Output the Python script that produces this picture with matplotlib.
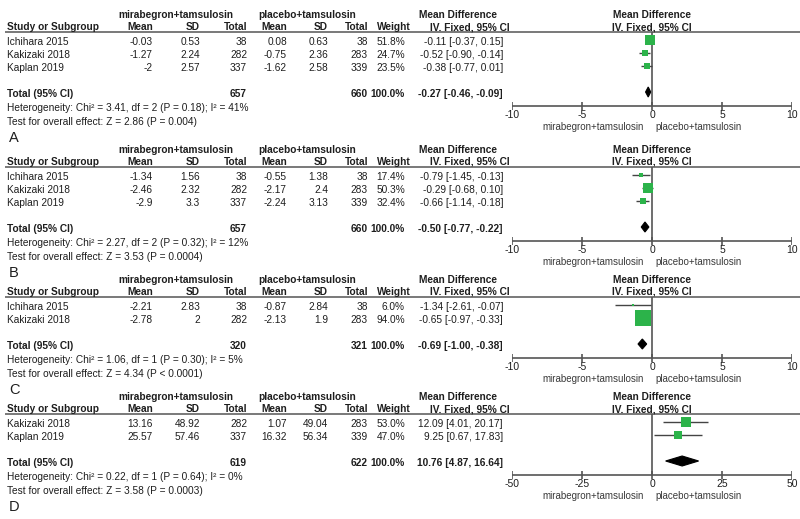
import matplotlib.pyplot as plt

plt.rcParams['font.family'] = ['Liberation Sans', 'DejaVu Sans']

# ---- panel A ----
studies_a = ['Ichihara 2015', 'Kakizaki 2018', 'Kaplan 2019']
mira_mean_a = [-0.03, -1.27, -2]
mira_sd_a = [0.53, 2.24, 2.57]
mira_n_a = [38, 282, 337]
plac_mean_a = [0.08, -0.75, -1.62]
plac_sd_a = [0.63, 2.36, 2.58]
plac_n_a = [38, 283, 339]
weight_a = [51.8, 24.7, 23.5]
md_a = [-0.11, -0.52, -0.38]
lo_a = [-0.37, -0.90, -0.77]
hi_a = [0.15, -0.14, 0.01]
total_a = [-0.27, -0.46, -0.09]
n_total_a = [657, 660]
het_a = 'Heterogeneity: Chi² = 3.41, df = 2 (P = 0.18); I² = 41%'
z_a = 'Test for overall effect: Z = 2.86 (P = 0.004)'

# ---- panel B ----
studies_b = ['Ichihara 2015', 'Kakizaki 2018', 'Kaplan 2019']
mira_mean_b = [-1.34, -2.46, -2.9]
mira_sd_b = [1.56, 2.32, 3.3]
mira_n_b = [38, 282, 337]
plac_mean_b = [-0.55, -2.17, -2.24]
plac_sd_b = [1.38, 2.4, 3.13]
plac_n_b = [38, 283, 339]
weight_b = [17.4, 50.3, 32.4]
md_b = [-0.79, -0.29, -0.66]
lo_b = [-1.45, -0.68, -1.14]
hi_b = [-0.13, 0.10, -0.18]
total_b = [-0.50, -0.77, -0.22]
n_total_b = [657, 660]
het_b = 'Heterogeneity: Chi² = 2.27, df = 2 (P = 0.32); I² = 12%'
z_b = 'Test for overall effect: Z = 3.53 (P = 0.0004)'

# ---- panel C ----
studies_c = ['Ichihara 2015', 'Kakizaki 2018']
mira_mean_c = [-2.21, -2.78]
mira_sd_c = [2.83, 2]
mira_n_c = [38, 282]
plac_mean_c = [-0.87, -2.13]
plac_sd_c = [2.84, 1.9]
plac_n_c = [38, 283]
weight_c = [6.0, 94.0]
md_c = [-1.34, -0.65]
lo_c = [-2.61, -0.97]
hi_c = [-0.07, -0.33]
total_c = [-0.69, -1.00, -0.38]
n_total_c = [320, 321]
het_c = 'Heterogeneity: Chi² = 1.06, df = 1 (P = 0.30); I² = 5%'
z_c = 'Test for overall effect: Z = 4.34 (P < 0.0001)'

# ---- panel D ----
studies_d = ['Kakizaki 2018', 'Kaplan 2019']
mira_mean_d = [13.16, 25.57]
mira_sd_d = [48.92, 57.46]
mira_n_d = [282, 337]
plac_mean_d = [1.07, 16.32]
plac_sd_d = [49.04, 56.34]
plac_n_d = [283, 339]
weight_d = [53.0, 47.0]
md_d = [12.09, 9.25]
lo_d = [4.01, 0.67]
hi_d = [20.17, 17.83]
total_d = [10.76, 4.87, 16.64]
n_total_d = [619, 622]
het_d = 'Heterogeneity: Chi² = 0.22, df = 1 (P = 0.64); I² = 0%'
z_d = 'Test for overall effect: Z = 3.58 (P = 0.0003)'

ticks_small = [-10, -5, 0, 5, 10]
ticks_large = [-50, -25, 0, 25, 50]

W, H = 800, 519
TXT = '#1e1e1e'
LINE = '#555555'
GREEN = '#2cb34a'
FS = 7.3

fig = plt.figure(figsize=(8, 5.19), dpi=100)
bg = fig.add_axes([0, 0, 1, 1])
bg.set_xlim(0, W)
bg.set_ylim(H, 0)
bg.axis('off')


def t(x, y, s, ha='left', bold=False, **kw):
    bg.text(x, y, s, ha=ha, va=kw.pop('va', 'center'), fontsize=kw.pop('fontsize', FS),
            fontweight='bold' if bold else 'normal', color=kw.pop('color', TXT), **kw)


def fmt(v):
    return f'{v:g}'


def draw_panel(top, letter, studies, m_mean, m_sd, m_n, p_mean, p_sd, p_n,
               weight, md, lo, hi, total, n_total, het, z, ticks):
    rule = top + 17
    rows = [rule + 10 + 13 * i for i in range(len(studies))]
    y_tot = rows[-1] + 26
    y_axis = y_tot + 12

    # headers
    t(176, top, 'mirabegron+tamsulosin', ha='center', bold=True)
    t(307, top, 'placebo+tamsulosin', ha='center', bold=True)
    t(458, top, 'Mean Difference', ha='center', bold=True)
    t(652, top, 'Mean Difference', ha='center', bold=True)
    hb = rule - 2
    t(7, hb, 'Study or Subgroup', bold=True, va='baseline')
    for x, s in [(153, 'Mean'), (200, 'SD'), (247, 'Total'),
                 (287, 'Mean'), (328, 'SD'), (368, 'Total'), (411, 'Weight')]:
        t(x, hb, s, ha='right', bold=True, va='baseline')
    t(510, hb, 'IV. Fixed, 95% CI', ha='right', bold=True, va='baseline')
    t(652, hb, 'IV. Fixed, 95% CI', ha='center', bold=True, va='baseline')
    bg.hlines(rule, 5, 800, color=LINE, lw=1.1)

    for i, y in enumerate(rows):
        t(7, y, studies[i])
        t(153, y, fmt(m_mean[i]), ha='right')
        t(200, y, fmt(m_sd[i]), ha='right')
        t(247, y, fmt(m_n[i]), ha='right')
        t(287, y, fmt(p_mean[i]), ha='right')
        t(328, y, fmt(p_sd[i]), ha='right')
        t(368, y, fmt(p_n[i]), ha='right')
        t(405, y, f'{weight[i]:.1f}%', ha='right')
        t(503, y, f'{md[i]:.2f} [{lo[i]:.2f}, {hi[i]:.2f}]', ha='right')

    t(7, y_tot, 'Total (95% CI)', bold=True)
    t(247, y_tot, str(n_total[0]), ha='right', bold=True)
    t(368, y_tot, str(n_total[1]), ha='right', bold=True)
    t(405, y_tot, '100.0%', ha='right', bold=True)
    t(503, y_tot, f'{total[0]:.2f} [{total[1]:.2f}, {total[2]:.2f}]', ha='right', bold=True)
    t(7, y_tot + 14, het)
    t(7, y_tot + 28, z)
    t(9, y_tot + 44, letter, fontsize=10.5)

    # forest plot area
    ax = fig.add_axes([512 / W, 0, (792 - 512) / W, 1])
    ax.set_xlim(ticks[0], ticks[-1])
    ax.set_ylim(H, 0)
    ax.axis('off')
    ax.vlines(0, rule, y_axis, color=LINE, lw=1.2)
    ax.hlines(y_axis, ticks[0], ticks[-1], color=LINE, lw=1.2)
    ax.vlines(ticks, y_axis - 4, y_axis + 4, color=LINE, lw=1.2)
    for tk in ticks:
        ax.text(tk, y_axis + 9, str(tk), ha='center', va='center', fontsize=7.5, color=TXT)
    ax.text(ticks[0] * 0.06, y_axis + 21, 'mirabegron+tamsulosin', ha='right', va='center',
            fontsize=7, color='#3a3a3a')
    ax.text(ticks[-1] * 0.025, y_axis + 21, 'placebo+tamsulosin', ha='left', va='center',
            fontsize=7, color='#3a3a3a')

    for i, y in enumerate(rows):
        ym = y - 2
        ax.hlines(ym, lo[i], hi[i], color='#444444', lw=1)
        side = 2 + 0.14 * weight[i]
        ax.plot(md[i], ym, 's', color=GREEN, markersize=side * 0.72, markeredgewidth=0)

    yd = y_tot - 2
    ax.fill([total[1], total[0], total[2], total[0]], [yd, yd - 5, yd, yd + 5],
            color='black', lw=0.8)


draw_panel(15, 'A', studies_a, mira_mean_a, mira_sd_a, mira_n_a, plac_mean_a, plac_sd_a,
           plac_n_a, weight_a, md_a, lo_a, hi_a, total_a, n_total_a, het_a, z_a, ticks_small)
draw_panel(150, 'B', studies_b, mira_mean_b, mira_sd_b, mira_n_b, plac_mean_b, plac_sd_b,
           plac_n_b, weight_b, md_b, lo_b, hi_b, total_b, n_total_b, het_b, z_b, ticks_small)
draw_panel(280, 'C', studies_c, mira_mean_c, mira_sd_c, mira_n_c, plac_mean_c, plac_sd_c,
           plac_n_c, weight_c, md_c, lo_c, hi_c, total_c, n_total_c, het_c, z_c, ticks_small)
draw_panel(397, 'D', studies_d, mira_mean_d, mira_sd_d, mira_n_d, plac_mean_d, plac_sd_d,
           plac_n_d, weight_d, md_d, lo_d, hi_d, total_d, n_total_d, het_d, z_d, ticks_large)

fig.savefig('out.png', dpi=100, facecolor='white')
